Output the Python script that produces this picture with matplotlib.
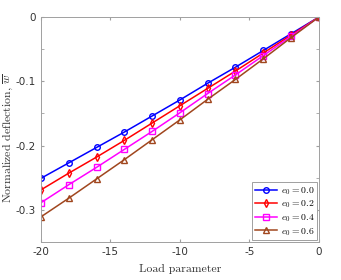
import numpy as np
import matplotlib.pyplot as plt

plt.rcParams['mathtext.fontset'] = 'cm'
plt.rcParams['axes.unicode_minus'] = False

load = [-20, -18, -16, -14, -12, -10, -8, -6, -4, -2, 0]
w_e00 = [-0.251, -0.227, -0.203, -0.179, -0.154, -0.129, -0.103, -0.078, -0.052, -0.026, 0]
w_e02 = [-0.269, -0.243, -0.218, -0.192, -0.165, -0.138, -0.111, -0.084, -0.056, -0.028, 0]
w_e04 = [-0.289, -0.261, -0.234, -0.206, -0.178, -0.149, -0.119, -0.090, -0.060, -0.030, 0]
w_e06 = [-0.311, -0.282, -0.252, -0.222, -0.191, -0.160, -0.128, -0.097, -0.065, -0.032, 0]
labels = [r'$e_0 = 0.0$', r'$e_0 = 0.2$', r'$e_0 = 0.4$', r'$e_0 = 0.6$']
xticks = [-20, -15, -10, -5, 0]
yticks = [0, -0.1, -0.2, -0.3]

fig = plt.figure(figsize=(3.41, 2.8), dpi=100)
ax = fig.add_axes([0.12, 0.136, 0.815, 0.803])

series = [w_e00, w_e02, w_e04, w_e06]
colors = ['#0000ff', '#ff0000', '#ff00ff', '#a0461e']
markers = ['o', 'd', 's', '^']
for w, c, m, lab in zip(series, colors, markers, labels):
    ax.plot(load, w, color=c, marker=m, markersize=4, markerfacecolor='none',
            markeredgewidth=1.0, linewidth=1.1, label=lab)

ax.set_xlim(-20, 0)
ax.set_ylim(-0.35, 0)
ax.set_xticks(xticks)
ax.set_xticklabels([str(t) for t in xticks])
ax.set_yticks(yticks)
ax.set_yticklabels(['0', '-0.1', '-0.2', '-0.3'])
ax.set_yticks([-0.05, -0.15, -0.25], minor=True)
ax.tick_params(which='both', direction='in', top=True, right=True,
               color='#a0a0a0', labelsize=7.5, labelcolor='#333333', length=2.5)
for s in ax.spines.values():
    s.set_color('#a0a0a0')
    s.set_linewidth(0.7)

ax.set_xlabel('Load parameter', family='cmr10', fontsize=8.5, color='#333333')
ax.xaxis.set_label_coords(0.5, -0.1)
ax.set_ylabel(r'Normalized deflection, $\overline{w}$', family='cmr10',
              fontsize=8.5, color='#333333')
ax.yaxis.set_label_coords(-0.095, 0.46)

leg = ax.legend(loc='lower right', fontsize=7,
                handlelength=2.3, borderpad=0.3, labelspacing=0.2, handletextpad=0.4,
                fancybox=False, framealpha=1, borderaxespad=0.15)
leg.get_frame().set_edgecolor('#a0a0a0')
leg.get_frame().set_linewidth(0.7)

fig.savefig('out.png', dpi=100)
